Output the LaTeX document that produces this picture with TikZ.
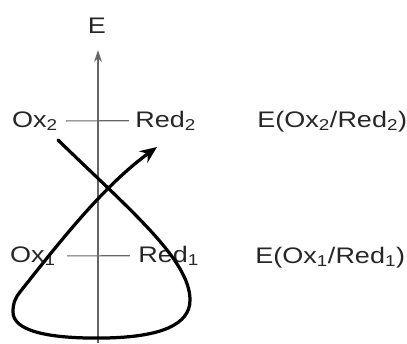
\documentclass[tikz,border=0pt]{standalone}
\usepackage{fontspec}
\setmainfont{Liberation Sans}
\newfontfamily\etichfont[FakeStretch=1.2]{Liberation Sans}
\usetikzlibrary{arrows.meta}

\begin{document}
\begin{tikzpicture}[
	x=0.025cm, y=-0.025cm,
	asse/.style={line width=1pt, black!60, -{Stealth[length=8.5pt, width=5.5pt]}},
	livello/.style={line width=0.8pt, black!60},
	curva/.style={line width=2.3pt, line cap=round, line join=round, black},
	etich/.style={font=\etichfont\fontsize{16}{19}\selectfont, inner sep=0pt, text=black!85},
	]
	\useasboundingbox (0,0) rectangle (407,343);
	
	%% asse dei potenziali
	\coordinate (assebasso) at (98,343);
	\coordinate (assealto) at (98,50);
	\node[etich, anchor=base] (elab) at (97,33) {E};
	\draw[asse] (assebasso) -- (assealto);
	
	%% coppie redox
	\node[etich, anchor=base east] (ox2) at (58,127) {Ox\textsubscript{2}};
	\node[etich, anchor=base west] (red2) at (135,127) {Red\textsubscript{2}};
	\node[etich, anchor=base east] (ox1) at (56,262) {Ox\textsubscript{1}};
	\node[etich, anchor=base west] (red1) at (138,262) {Red\textsubscript{1}};
	\draw[livello, shorten <=0.2cm, shorten >=0.15cm] (ox2.east) -- (red2.west);
	\draw[livello, shorten <=0.28cm, shorten >=0.2cm] (ox1.east) -- (red1.west);
	
	%% potenziali standard
	\node[etich, anchor=base west] (eox2) at (257,127) {E(Ox\textsubscript{2}/Red\textsubscript{2})};
	\node[etich, anchor=base west] (eox1) at (255,263) {E(Ox\textsubscript{1}/Red\textsubscript{1})};
	
	%% percorso della reazione
	\draw[curva, -{Stealth[length=12pt, width=10pt]}]
		(58,140) .. controls (130,210) and (190,260) .. (190,300)
		.. controls (190,325) and (160,337) .. (105,338)
		.. controls (45,339) and (13,330) .. (13,312)
		.. controls (13,302) and (16,297) .. (20,292)
		.. controls (65,235) and (105,185) .. (157,147);
	
\end{tikzpicture}
\end{document}
